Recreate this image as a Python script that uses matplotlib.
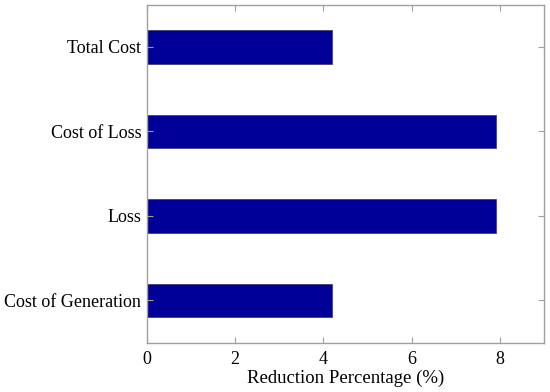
import matplotlib
matplotlib.use('Agg')
from matplotlib import pyplot as plt

# Values.
categories = ['Cost of Generation', 'Loss', 'Cost of Loss', 'Total Cost']
reduction = [4.19, 7.91, 7.91, 4.19]
x_ticks = [0, 2, 4, 6, 8]

plt.rcParams['font.family'] = ['Liberation Serif', 'DejaVu Serif']

fig = plt.figure(figsize=(5.5, 3.92), dpi=100)
ax = fig.add_axes([0.2667, 0.1258, 0.7223, 0.8622])

positions = list(range(1, len(categories) + 1))
ax.barh(positions, reduction, height=0.4, color='#000099', edgecolor='#333366', linewidth=0.5)

ax.set_xlim(0, 9)
ax.set_ylim(0.5, 4.5)
ax.set_xticks(x_ticks)
ax.set_yticks(positions)
ax.set_yticklabels(categories)
ax.set_xlabel('Reduction Percentage (%)', fontsize=13.5, labelpad=1)

for s in ax.spines.values():
    s.set_color('#a0a0a0')
    s.set_linewidth(1.0)
ax.tick_params(direction='in', top=True, right=True, length=4, color='#a0a0a0',
               labelsize=13, labelcolor='black')
ax.tick_params(axis='y', pad=4)
ax.tick_params(axis='x', pad=6)

fig.savefig('out.png', dpi=100)
